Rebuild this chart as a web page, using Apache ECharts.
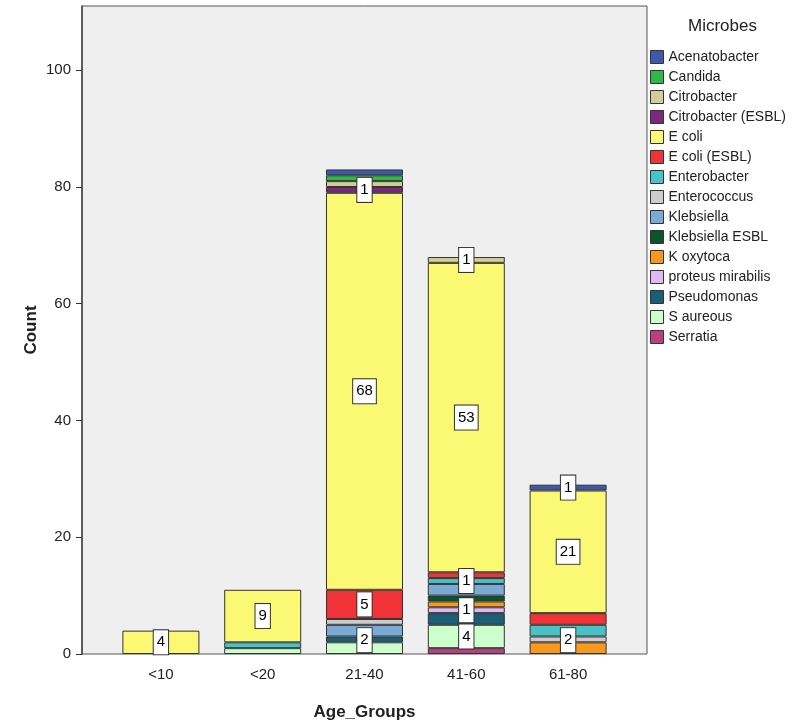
<!DOCTYPE html>
<html>
<head>
<meta charset="utf-8">
<script src="https://cdn.jsdelivr.net/npm/echarts@6/dist/echarts.min.js"></script>
<style>
	html, body { margin: 0; padding: 0; background: #fff; }
	#chart { width: 797px; height: 728px; }
</style>
</head>
<body>
<div id="chart"></div>
<script>
	// age groups on the x axis
	var ageGroups = ['<10', '<20', '21-40', '41-60', '61-80'];
	var yTicks = [0, 20, 40, 60, 80, 100];

	// counts per microbe, one value per age group
	var acenatobacter = [0, 0, 1, 0, 1];
	var candida = [0, 0, 1, 0, 0];
	var citrobacter = [0, 0, 1, 1, 0];
	var citrobacterEsbl = [0, 0, 1, 0, 0];
	var eColi = [4, 9, 68, 53, 21];
	var eColiEsbl = [0, 0, 5, 1, 2];
	var enterobacter = [0, 1, 0, 1, 2];
	var enterococcus = [0, 0, 1, 0, 1];
	var klebsiella = [0, 0, 2, 2, 0];
	var klebsiellaEsbl = [0, 0, 0, 1, 0];
	var kOxytoca = [0, 0, 0, 1, 2];
	var proteusMirabilis = [0, 0, 0, 1, 0];
	var pseudomonas = [0, 0, 1, 2, 0];
	var sAureous = [0, 1, 2, 4, 0];
	var serratia = [0, 0, 0, 1, 0];

	// legend order (top of stack first)
	var microbes = [
		['Acenatobacter', acenatobacter, '#3E58AC'],
		['Candida', candida, '#2EB848'],
		['Citrobacter', citrobacter, '#D3CE97'],
		['Citrobacter (ESBL)', citrobacterEsbl, '#7C287D'],
		['E coli', eColi, '#FBF873'],
		['E coli (ESBL)', eColiEsbl, '#EF3338'],
		['Enterobacter', enterobacter, '#48C2C5'],
		['Enterococcus', enterococcus, '#CCCCCC'],
		['Klebsiella', klebsiella, '#7AAAD5'],
		['Klebsiella ESBL', klebsiellaEsbl, '#0A562C'],
		['K oxytoca', kOxytoca, '#F8981D'],
		['proteus mirabilis', proteusMirabilis, '#DDBAF1'],
		['Pseudomonas', pseudomonas, '#1A5F76'],
		['S aureous', sAureous, '#CCFFCC'],
		['Serratia', serratia, '#BB3F7F']
	];

	// which segments carry a value label: [microbe, age group index, vertical shift]
	var shownLabels = [
		['E coli', 0, 0], ['E coli', 1, 0],
		['Citrobacter (ESBL)', 2, 0], ['E coli', 2, 0], ['E coli (ESBL)', 2, 0], ['S aureous', 2, -8],
		['Citrobacter', 3, 0], ['E coli', 3, 0], ['Enterobacter', 3, 0], ['proteus mirabilis', 3, 0], ['S aureous', 3, 0],
		['Acenatobacter', 4, 0], ['E coli', 4, 0], ['K oxytoca', 4, -8]
	];

	function findLabel(name, i) {
		for (var k = 0; k < shownLabels.length; k++) {
			if (shownLabels[k][0] === name && shownLabels[k][1] === i) return shownLabels[k];
		}
		return null;
	}

	// bottom of the stack is the last legend entry
	var series = microbes.slice().reverse().map(function (m) {
		return {
			name: m[0],
			type: 'bar',
			stack: 'total',
			barWidth: 77,
			itemStyle: { color: m[2], borderColor: '#333', borderWidth: 1 },
			label: {
				show: false,
				position: 'inside',
				color: '#000',
				fontSize: 15,
				fontFamily: 'Liberation Sans',
				backgroundColor: '#fff',
				borderColor: '#333',
				borderWidth: 1,
				padding: [5, 3, 4, 3]
			},
			data: m[1].map(function (v, i) {
				var lab = findLabel(m[0], i);
				var item = { value: v === 0 ? '-' : v };
				if (lab) item.label = { show: true, offset: [0, lab[2]] };
				return item;
			})
		};
	});

	var myChart = echarts.init(document.getElementById('chart'));
	myChart.setOption({
		backgroundColor: '#fff',
		animation: false,
		textStyle: { fontFamily: 'Liberation Sans' },
		title: {
			text: 'Microbes',
			left: 688,
			top: 18,
			padding: 0,
			textStyle: { fontSize: 17, fontWeight: 'normal', color: '#222' }
		},
		legend: {
			orient: 'vertical',
			left: 650,
			top: 50,
			padding: 0,
			itemWidth: 13,
			itemHeight: 13,
			itemGap: 6,
			icon: 'rect',
			itemStyle: { borderColor: '#333', borderWidth: 1 },
			textStyle: { fontSize: 14, color: '#222' },
			data: microbes.map(function (m) { return m[0]; })
		},
		graphic: [{
			type: 'rect',
			z: -1,
			shape: { x: 82, y: 6, width: 565, height: 648 },
			style: { fill: '#EFEFEF', stroke: '#555', lineWidth: 1 }
		}],
		grid: { left: 110, right: 178, top: 6, bottom: 74 },
		xAxis: {
			type: 'category',
			data: ageGroups,
			name: 'Age_Groups',
			nameLocation: 'middle',
			nameGap: 50,
			nameMoveOverlap: false,
			nameTextStyle: { fontSize: 17, fontWeight: 'bold', color: '#222' },
			axisLine: { show: false },
			axisTick: { alignWithLabel: true, length: 9, lineStyle: { color: '#333' } },
			axisLabel: { fontSize: 15, color: '#222', margin: 13 }
		},
		yAxis: {
			type: 'value',
			min: 0,
			max: 111,
			interval: 20,
			offset: 28,
			name: 'Count',
			nameLocation: 'middle',
			nameGap: 42,
			nameMoveOverlap: false,
			nameTextStyle: { fontSize: 17, fontWeight: 'bold', color: '#222' },
			splitLine: { show: false },
			axisLine: { show: true, lineStyle: { color: '#444', width: 1.5 } },
			axisTick: { show: true, length: 6, customValues: yTicks, lineStyle: { color: '#333' } },
			axisLabel: { fontSize: 15, color: '#222', margin: 11, customValues: yTicks }
		},
		series: series
	});
</script>
</body>
</html>
